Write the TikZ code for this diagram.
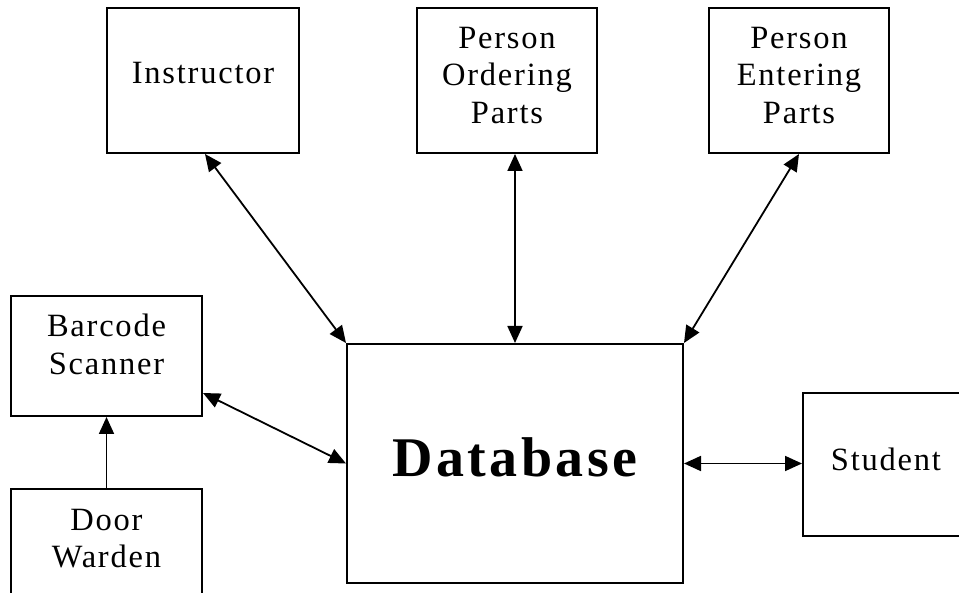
\documentclass[tikz,border=0pt]{standalone}
\usepackage{fontspec}
\setmainfont[LetterSpace=5.5]{Liberation Serif}
\newfontfamily\dbfont[LetterSpace=6]{Liberation Serif}
\usetikzlibrary{arrows.meta}
\begin{document}
\begin{tikzpicture}[x=1pt,y=-1pt,
  box/.style={draw, line width=2pt, inner sep=0pt},
  lbl/.style={font=\fontsize{32.5}{37.4}\selectfont, align=center, inner sep=0pt, anchor=north},
  tipA/.tip={Triangle[length=17pt,width=15pt]},
  arr/.style={line width=1.8pt, tipA-tipA},
  arrone/.style={line width=1.8pt, -tipA}
]
\useasboundingbox (0,0) rectangle (959,593);
% boxes
\node[box, minimum width=192pt, minimum height=145pt] (instr) at (203,80.5) {};
\node[box, minimum width=180pt, minimum height=145pt] (order) at (507,80.5) {};
\node[box, minimum width=180pt, minimum height=145pt] (enter) at (799,80.5) {};
\node[box, minimum width=191pt, minimum height=120pt] (scan) at (106.5,356) {};
\node[box, minimum width=191pt, minimum height=145pt] (door) at (106.5,561.5) {};
\node[box, minimum width=336pt, minimum height=239pt] (db) at (515,463.5) {};
\node[box, minimum width=166pt, minimum height=143pt] (stud) at (886,464.5) {};
% labels
\node[lbl] (instrT) at ([yshift=-55pt]instr.north) {Instructor};
\node[lbl] (orderT) at ([yshift=-20pt]order.north) {Person\\Ordering\\Parts};
\node[lbl] (enterT) at ([yshift=-20pt]enter.north) {Person\\Entering\\Parts};
\node[lbl] (scanT) at ([yshift=-19pt]scan.north) {Barcode\\Scanner};
\node[lbl] (doorT) at ([yshift=-21pt]door.north) {Door\\Warden};
\node[lbl] (studT) at ([yshift=-56pt]stud.north) {Student};
\node[inner sep=0pt, anchor=north, font=\dbfont\bfseries\fontsize{56}{60}\selectfont] (dbT) at ([xshift=0pt,yshift=-94pt]db.north) {Database};
% connectors
\draw[arr] ([xshift=2pt]instr.south) -- (db.north west);
\draw[arr] (db.north |- order.south) -- (db.north);
\draw[arr] (enter.south) -- (db.north east);
\draw[arr] ([yshift=-37pt]scan.east) -- (db.west);
\draw[arrone] (door.north) -- (scan.south);
\draw[arr] (db.east) -- (db.east -| stud.west);
\end{tikzpicture}
\end{document}
